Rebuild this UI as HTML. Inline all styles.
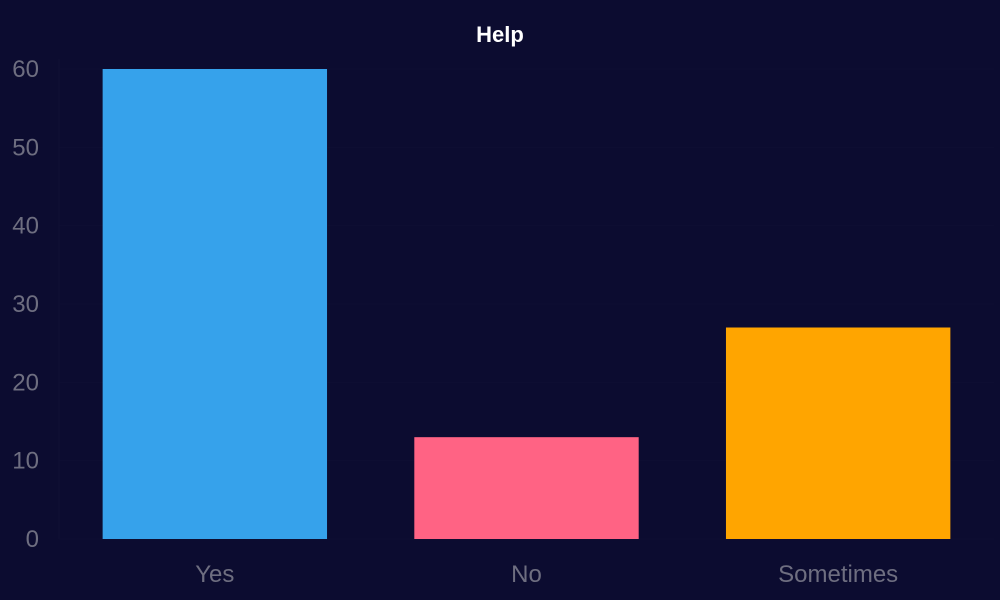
<!DOCTYPE html>
<html><head><meta charset="utf-8"><style>
html,body{margin:0;padding:0;background:#0c0c30;}
svg{display:block;font-family:"Liberation Sans",sans-serif;}
</style></head><body>
<svg id="chart" width="1000" height="600">
<rect width="1000" height="600" fill="#0c0c30"/>
<text x="500" y="42" text-anchor="middle" fill="#ffffff" font-weight="bold" font-size="22">Help</text>
<g id="grid"></g><g id="bars"></g><g id="axes"></g>
</svg>
<script>
const categories = ["Yes", "No", "Sometimes"];
const values = [60, 13, 27];
const colors = ["#36a2eb", "#ff6384", "#ffa500"];
const yTicks = [0, 10, 20, 30, 40, 50, 60];

const NS = "http://www.w3.org/2000/svg";
const plotLeft = 59, plotRight = 994, plotTop = 69, plotBottom = 539, yMax = 60;
const band = (plotRight - plotLeft) / categories.length;
const yScale = v => plotBottom - (v / yMax) * (plotBottom - plotTop);
const xCenter = i => plotLeft + band * (i + 0.5);
function mk(tag, attrs, parent) {
  const e = document.createElementNS(NS, tag);
  for (const k in attrs) e.setAttribute(k, attrs[k]);
  parent.appendChild(e); return e;
}
const gridG = document.getElementById("grid"), barsG = document.getElementById("bars"), axesG = document.getElementById("axes");
const yl = mk("line", {x1: plotLeft, x2: plotLeft, y1: plotTop - 10, y2: plotBottom, stroke: "#101034", "stroke-width": 1}, axesG);


yTicks.forEach(t => {
  const g = mk("line", {x1: plotLeft, x2: plotRight, y1: yScale(t), y2: yScale(t), stroke: "#0e0e32", "stroke-width": 1}, gridG);
  
  
  const tx = mk("text", {x: 39, y: yScale(t) + 8, "text-anchor": "end", fill: "#6e6e80", "font-size": 24}, axesG);
  tx.textContent = t;
  
  
});
categories.forEach((c, i) => {
  const w = band * 0.72;
  const r = mk("rect", {x: xCenter(i) - w / 2, y: yScale(values[i]), width: w, height: plotBottom - yScale(values[i]), fill: colors[i]}, barsG);
  
  
  const tx = mk("text", {x: xCenter(i), y: 582, "text-anchor": "middle", fill: "#6e6e80", "font-size": 24}, axesG);
  tx.textContent = c;
  
  
});
</script>
</body></html>
